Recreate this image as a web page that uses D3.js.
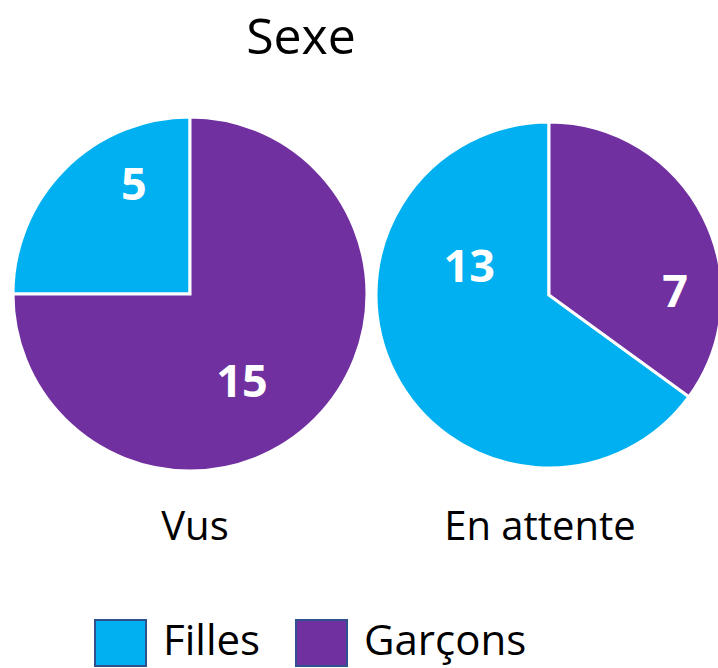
<!DOCTYPE html>
<html>
<head>
<meta charset="utf-8">
<script src="https://cdn.jsdelivr.net/npm/d3@7"></script>
<style>
  body { margin: 0; background: #fff; }
  svg { display: block; font-family: "Open Sans", "Liberation Sans", sans-serif; }
</style>
</head>
<body>
<div id="chart"></div>
<script>
var categories = ['Filles', 'Garçons'];
var pies = ['Vus', 'En attente'];
var vusValues = [5, 15];
var attenteValues = [13, 7];

var colors = ['#00B0F0', '#7030A0'];

// where Excel put the numbers: angle clockwise from 12 o'clock, fraction of radius
var labelLayout = [
    [{a: -27, k: 0.70}, {a: 149, k: 0.57}],
    [{a: -70, k: 0.49}, {a: 88, k: 0.73}]
];

var width = 718, height = 668;
var svg = d3.select('#chart').append('svg')
    .attr('width', width)
    .attr('height', height);

svg.append('text')
    .attr('x', 301).attr('y', 54)
    .attr('text-anchor', 'middle')
    .style('font-size', '50px')
    .text('Sexe');

var pieLayout = d3.pie().sort(null)
    .startAngle(0).endAngle(-2 * Math.PI);

var centers = [{x: 190, y: 294, r: 177}, {x: 549, y: 295, r: 173}];
var allValues = [vusValues, attenteValues];

allValues.forEach(function(values, p) {
    var c = centers[p];
    var g = svg.append('g')
        .attr('transform', 'translate(' + c.x + ',' + c.y + ')');

    var arc = d3.arc().innerRadius(0).outerRadius(c.r);

    g.selectAll('path')
        .data(pieLayout(values))
        .enter().append('path')
        .attr('d', arc)
        .attr('fill', function(d, i) { return colors[i]; })
        .attr('stroke', '#fff')
        .attr('stroke-width', 3)
        .attr('stroke-linejoin', 'miter');

    g.selectAll('text.val')
        .data(values)
        .enter().append('text')
        .classed('val', true)
        .attr('x', function(d, i) {
            var l = labelLayout[p][i];
            return l.k * c.r * Math.sin(l.a * Math.PI / 180);
        })
        .attr('y', function(d, i) {
            var l = labelLayout[p][i];
            return -l.k * c.r * Math.cos(l.a * Math.PI / 180);
        })
        .attr('dy', '0.36em')
        .attr('text-anchor', 'middle')
        .attr('fill', '#fff')
        .style('font-size', '45px')
        .style('font-weight', 'bold')
        .text(function(d) { return d; });

    svg.append('text')
        .attr('x', p == 0 ? 195 : 540)
        .attr('y', 540)
        .attr('text-anchor', 'middle')
        .style('font-size', '40px')
        .text(pies[p]);
});

// legend
var legendX = [94, 295];
var leg = svg.selectAll('g.legend')
    .data(categories)
    .enter().append('g')
    .classed('legend', true)
    .attr('transform', function(d, i) { return 'translate(' + legendX[i] + ',619)'; });

leg.append('rect')
    .attr('x', 1).attr('y', 1)
    .attr('width', 51).attr('height', 46)
    .attr('fill', function(d, i) { return colors[i]; })
    .attr('stroke', '#2F528F')
    .attr('stroke-width', 2);

leg.append('text')
    .attr('x', 69).attr('y', 36)
    .style('font-size', '42px')
    .text(function(d) { return d; });
</script>
</body>
</html>
